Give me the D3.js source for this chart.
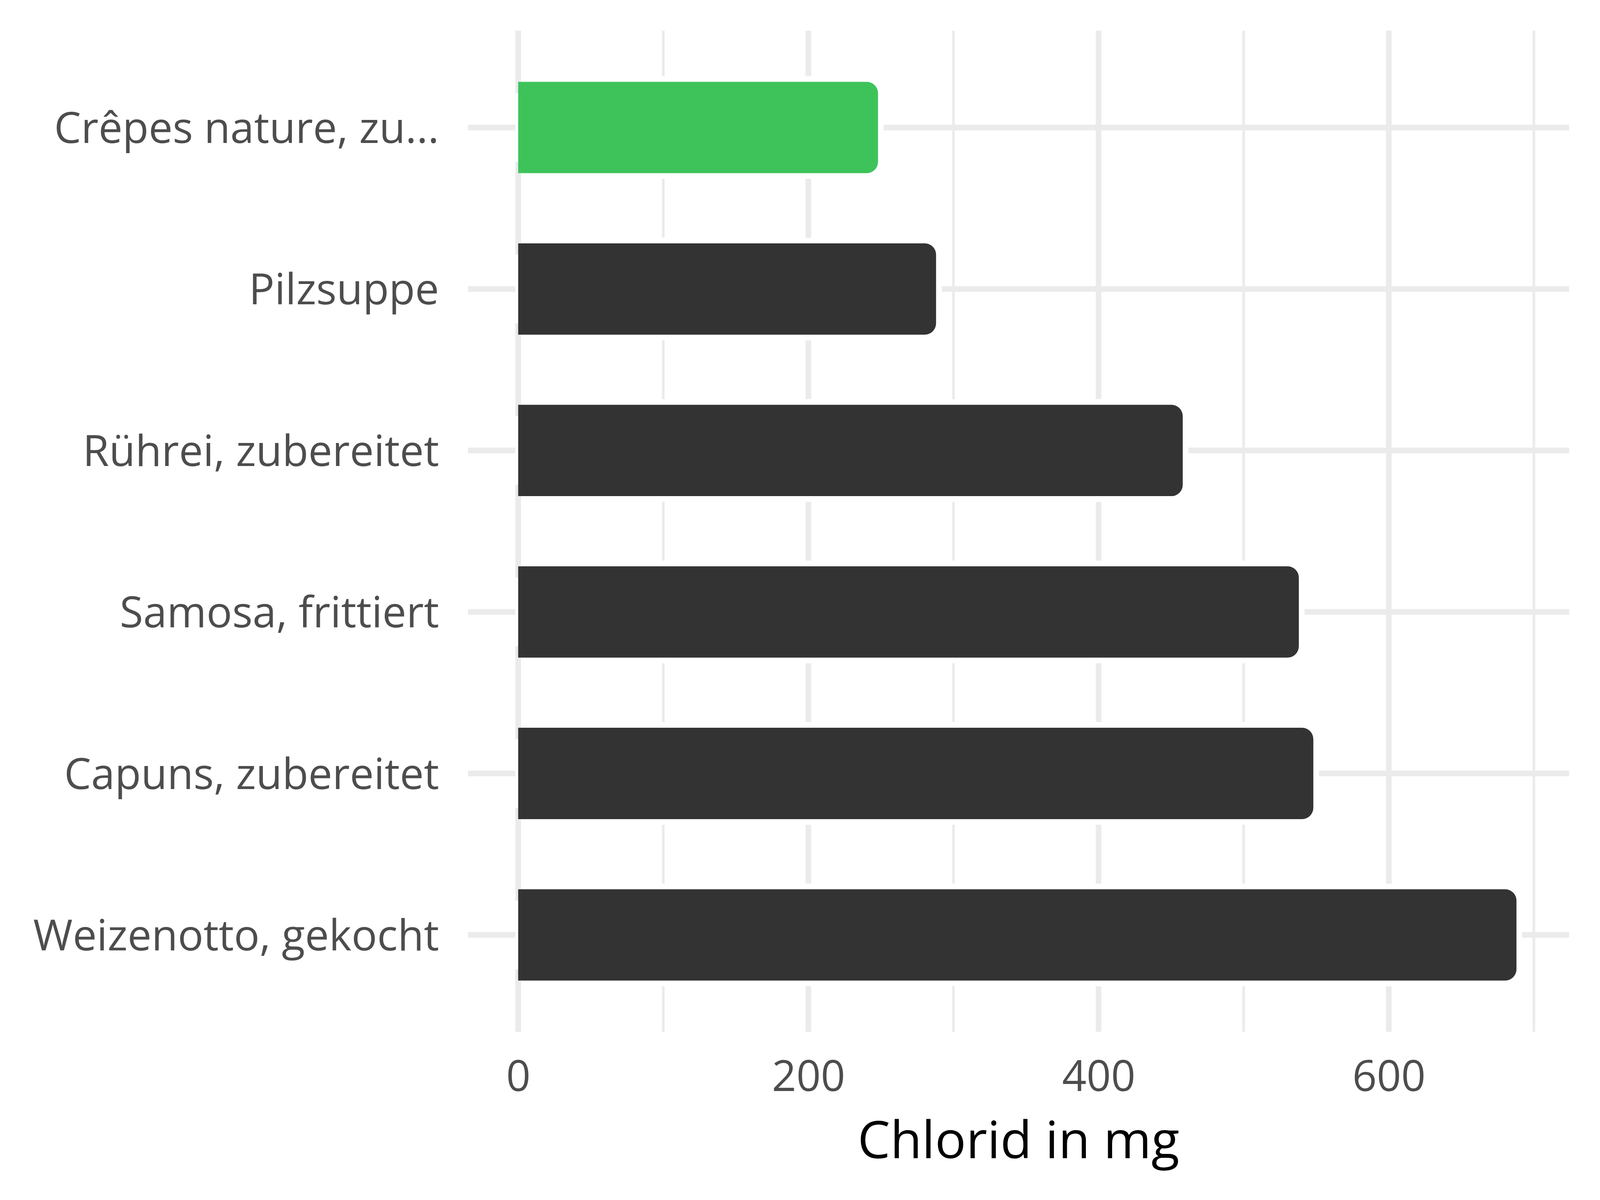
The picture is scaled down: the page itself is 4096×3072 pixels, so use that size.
<!DOCTYPE html>
<html><head><meta charset="utf-8">
<script src="https://cdn.jsdelivr.net/npm/d3@7"></script>
<style>html,body{margin:0;padding:0;background:#fff;} svg{display:block}</style>
</head><body>
<svg id="chart" width="4096" height="3072"></svg>
<script>
// ---- data ----
const categories = ["Crêpes nature, zu...", "Pilzsuppe", "Rührei, zubereitet", "Samosa, frittiert", "Capuns, zubereitet", "Weizenotto, gekocht"];
const values = [248, 288, 458, 538, 548, 688];
const highlighted = ["Crêpes nature, zu..."];
const majorTicks = [0, 200, 400, 600];
const minorTicks = [100, 300, 500, 700];
const tickLabels = ["0", "200", "400", "600"];
const axisTitle = "Chlorid in mg";

// ---- layout ----
const W = 4096, H = 3072;
const FONT = "'Open Sans', 'Noto Sans', sans-serif";
const panel = {left: 1198, right: 4017, top: 78.4, bottom: 2641.4};
const majorW = 14.5, minorW = 6.8, gridColor = "#EBEBEB";
const barH = 233.8, radius = 29, halo = 14.5, haloLeft = 7;
const colHi = "#3EC35A", colBar = "#333333";

const svg = d3.select("#chart");
svg.append("rect").attr("width", W).attr("height", H).attr("fill", "#fff");

const x = d3.scaleLinear().domain([-34.6, 724.3]).range([panel.left, panel.right]);
const y = d3.scalePoint().domain(categories).range([panel.top, panel.bottom]).padding(0.6);

const data = categories.map((c, i) => ({cat: c, value: values[i]}));

// grid
const g = svg.append("g");
g.selectAll("line.minor").data(minorTicks).join("line")
  .attr("x1", d => x(d)).attr("x2", d => x(d))
  .attr("y1", panel.top).attr("y2", panel.bottom)
  .attr("stroke", gridColor).attr("stroke-width", minorW);
g.selectAll("line.major").data(majorTicks).join("line")
  .attr("x1", d => x(d)).attr("x2", d => x(d))
  .attr("y1", panel.top).attr("y2", panel.bottom)
  .attr("stroke", gridColor).attr("stroke-width", majorW);
g.selectAll("line.hmajor").data(categories).join("line")
  .attr("x1", panel.left).attr("x2", panel.right)
  .attr("y1", d => y(d)).attr("y2", d => y(d))
  .attr("stroke", gridColor).attr("stroke-width", majorW);

function rightRounded(x0, x1, y0, y1, r) {
  r = Math.min(r, (x1 - x0), (y1 - y0) / 2);
  return `M${x0},${y0}H${x1 - r}A${r},${r} 0 0 1 ${x1},${y0 + r}V${y1 - r}A${r},${r} 0 0 1 ${x1 - r},${y1}H${x0}Z`;
}

// halos
const hg = svg.append("g");
data.forEach(d => {
  const yc = y(d.cat), x0 = x(0), x1 = x(d.value);
  hg.append("path")
    .attr("d", rightRounded(x0 + majorW / 2, x1 + halo, yc - barH / 2 - halo, yc + barH / 2 + halo, radius + halo))
    .attr("fill", "#fff");
  hg.append("rect")
    .attr("x", x0 - haloLeft).attr("width", haloLeft + majorW / 2)
    .attr("y", yc - barH / 2 + radius).attr("height", barH - 2 * radius)
    .attr("fill", "#fff");
});

// bars
svg.append("g").selectAll("path").data(data).join("path")
  .attr("d", d => rightRounded(x(0), x(d.value), y(d.cat) - barH / 2, y(d.cat) + barH / 2, radius))
  .attr("fill", d => highlighted.includes(d.cat) ? colHi : colBar);

// y axis labels
const yAxis = svg.append("g").attr("transform", `translate(1124,0)`)
  .call(d3.axisLeft(y).tickSize(0).tickPadding(0));
yAxis.select(".domain").remove();
yAxis.selectAll("text").attr("font-family", FONT).attr("font-size", 100).attr("fill", "#4D4D4D").attr("x", 0).attr("dy", 0);
let maxLen = 0;
yAxis.selectAll("text").each(function () { maxLen = Math.max(maxLen, this.getComputedTextLength()); });
const fs = 100 * 1039 / maxLen;
yAxis.selectAll("text").attr("font-size", fs).attr("y", 0.357 * fs);
yAxis.attr("font-family", null).attr("font-size", null);

// x axis labels
const xAxis = svg.append("g").attr("transform", `translate(0,2793)`)
  .call(d3.axisBottom(x).tickValues(majorTicks).tickFormat((d, i) => tickLabels[i]).tickSize(0).tickPadding(0));
xAxis.select(".domain").remove();
xAxis.selectAll("text").attr("font-family", FONT).attr("font-size", fs).attr("fill", "#4D4D4D").attr("y", 0).attr("dy", 0);

// axis title
const title = svg.append("text").attr("x", (panel.left + panel.right) / 2).attr("y", 2965)
  .attr("text-anchor", "middle").attr("font-family", FONT).attr("font-size", 100).attr("fill", "#000").text(axisTitle);
const tl = title.node().getComputedTextLength();
title.attr("font-size", 100 * 824 / tl);
</script>
</body></html>
